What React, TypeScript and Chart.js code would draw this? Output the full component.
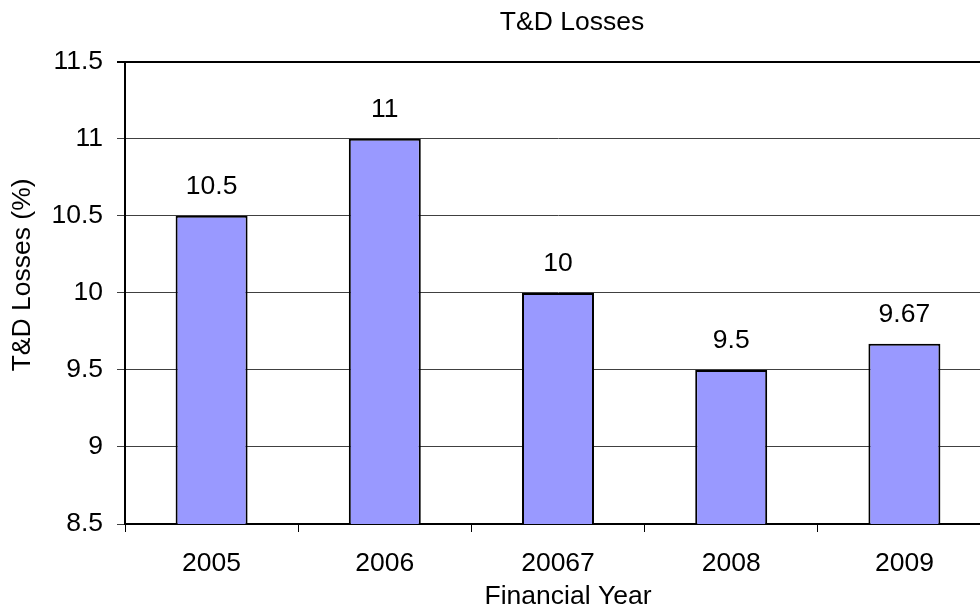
import React, { useEffect, useRef } from 'react';
import { Chart, registerables } from 'chart.js';

Chart.register(...registerables);

const categories = ['2005', '2006', '20067', '2008', '2009'];
const losses = [10.5, 11, 10, 9.5, 9.67];
const yMin = 8.5;
const yMax = 11.5;
const yStep = 0.5;

const chartTitle = 'T&D Losses';
const xTitle = 'Financial Year';
const yTitle = 'T&D Losses (%)';

const FONT = "'Liberation Sans', Arial, Helvetica, sans-serif";
const FS = 26.5;

const valueLabels = {
  id: 'valueLabels',
  afterDatasetsDraw(chart: any) {
    const ctx = chart.ctx;
    const meta = chart.getDatasetMeta(0);
    ctx.save();
    ctx.font = `${FS}px ${FONT}`;
    ctx.fillStyle = '#000';
    ctx.textAlign = 'center';
    ctx.textBaseline = 'middle';
    meta.data.forEach((bar: any, i: number) => {
      ctx.fillText(String(losses[i]), bar.x, bar.y - 29);
    });
    ctx.restore();
  },
};

const axisTitles = {
  id: 'axisTitles',
  afterDraw(chart: any) {
    const ctx = chart.ctx;
    const area = chart.chartArea;
    ctx.save();
    ctx.font = `${FS}px ${FONT}`;
    ctx.fillStyle = '#000';
    ctx.textAlign = 'center';
    ctx.textBaseline = 'middle';
    // x-axis title, slightly right of plot centre as in the original
    ctx.fillText(xTitle, (area.left + area.right) / 2 + 10, chart.height - 13);
    // y-axis title, slightly above plot centre
    ctx.translate(23, (area.top + area.bottom) / 2 - 18);
    ctx.rotate(-Math.PI / 2);
    ctx.fillText(yTitle, 0, 0);
    ctx.restore();
  },
};

export default function App() {
  const ref = useRef<HTMLCanvasElement>(null);

  useEffect(() => {
    document.body.style.margin = '0';
    document.body.style.overflow = 'hidden';
    const chart = new Chart(ref.current as HTMLCanvasElement, {
      type: 'bar',
      data: {
        labels: categories,
        datasets: [
          {
            data: losses,
            backgroundColor: '#9999FF',
            borderColor: '#000000',
            borderWidth: 2,
            barPercentage: 0.4156,
            categoryPercentage: 1,
          },
        ],
      },
      options: {
        responsive: false,
        animation: false,
        devicePixelRatio: 1,
        layout: { padding: 0 },
        plugins: {
          legend: { display: false },
          tooltip: { enabled: false },
          title: {
            display: true,
            text: chartTitle,
            color: '#000',
            font: { family: FONT, size: FS, weight: 'normal', lineHeight: 1.2 },
            padding: { top: 7, bottom: 23 },
          },
        },
        scales: {
          x: {
            grid: {
              display: true,
              drawOnChartArea: false,
              drawTicks: true,
              tickLength: 8,
              color: '#000',
              lineWidth: 1,
              offset: true,
            },
            border: { display: true, color: '#000', width: 2 },
            ticks: {
              color: '#000',
              font: { family: FONT, size: FS, lineHeight: 1.2 },
              padding: 15.6,
            },
            title: { display: false },
            afterFit(s: any) {
              s.height = 86;
            },
          },
          y: {
            min: yMin,
            max: yMax,
            grid: {
              color: (c: any) => (c.tick && c.tick.value === yMax ? '#000' : '#404040'),
              lineWidth: (c: any) => (c.tick && c.tick.value === yMax ? 2 : 1),
              drawTicks: true,
              tickLength: 8,
            },
            border: { display: true, color: '#000', width: 2 },
            ticks: {
              stepSize: yStep,
              color: '#000',
              font: { family: FONT, size: FS },
              padding: 14,
              callback: (v: any) => String(Number(v)),
            },
            title: { display: false },
            afterFit(s: any) {
              s.width = 125;
            },
          },
          y2: {
            position: 'right',
            display: true,
            grid: { display: false, drawTicks: false },
            border: { display: false },
            ticks: { display: false },
            title: { display: false },
            afterFit(s: any) {
              s.width = 153;
            },
          },
        },
      } as any,
      plugins: [valueLabels, axisTitles],
    });
    return () => chart.destroy();
  }, []);

  return (
    <div
      style={{
        position: 'fixed',
        left: 0,
        top: 0,
        width: 980,
        height: 610,
        overflow: 'hidden',
        background: '#fff',
      }}
    >
      <canvas ref={ref} width={1144} height={610} style={{ display: 'block' }} />
    </div>
  );
}
